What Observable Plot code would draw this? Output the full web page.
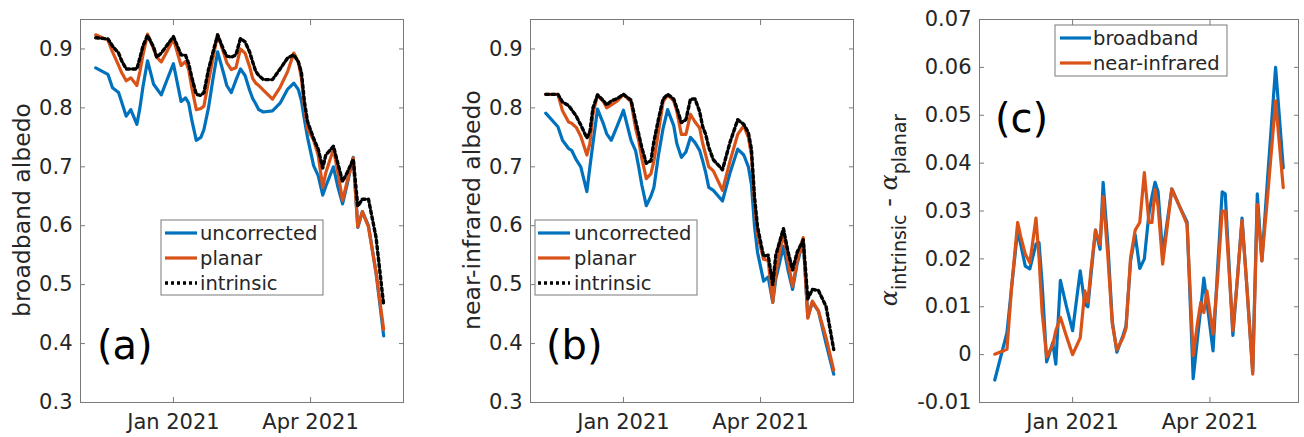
<!DOCTYPE html>
<html>
<head>
<meta charset="utf-8">
<script src="https://cdn.jsdelivr.net/npm/d3@7"></script>
<script src="https://cdn.jsdelivr.net/npm/@observablehq/plot@0.6"></script>
<style>
  html, body { margin: 0; padding: 0; background: #fff; }
  #wrap { position: relative; width: 1304px; height: 437px; overflow: hidden; background: #fff; }
  .panel { position: absolute; top: 0; }
</style>
</head>
<body>
<div id="wrap"></div>
<script>
// ---------------- data ----------------
const dates = ["2020-11-11","2020-11-19","2020-11-22","2020-11-26","2020-11-28","2020-12-01","2020-12-04","2020-12-08","2020-12-10","2020-12-12",
  "2020-12-15","2020-12-19","2020-12-21","2020-12-24","2020-12-28","2021-01-01","2021-01-06","2021-01-09","2021-01-11","2021-01-13",
  "2021-01-16","2021-01-19","2021-01-21","2021-01-24","2021-01-27","2021-01-30","2021-02-03","2021-02-05","2021-02-08","2021-02-11",
  "2021-02-14","2021-02-17","2021-02-20","2021-02-22","2021-02-24","2021-02-26","2021-03-01","2021-03-07","2021-03-12","2021-03-17",
  "2021-03-21","2021-03-24","2021-03-26","2021-03-28","2021-03-30","2021-04-03","2021-04-06","2021-04-09","2021-04-11","2021-04-16",
  "2021-04-19","2021-04-22","2021-04-25","2021-04-29","2021-05-02","2021-05-05","2021-05-09","2021-05-14","2021-05-19"];

// (a) broadband albedo
const broadbandUncorrected = [0.868,0.857,0.834,0.826,0.810,0.786,0.797,0.772,0.800,0.836,
  0.880,0.840,0.833,0.822,0.849,0.875,0.811,0.817,0.808,0.780,
  0.745,0.750,0.763,0.800,0.850,0.895,0.858,0.838,0.826,0.847,
  0.866,0.855,0.830,0.816,0.807,0.797,0.793,0.795,0.808,0.832,
  0.842,0.831,0.812,0.780,0.750,0.702,0.685,0.652,0.667,0.700,
  0.665,0.637,0.670,0.716,0.597,0.624,0.600,0.520,0.413];
const broadbandPlanar = [0.924,0.915,0.895,0.872,0.860,0.846,0.851,0.838,0.862,0.890,
  0.925,0.900,0.886,0.878,0.897,0.917,0.872,0.879,0.865,0.835,
  0.797,0.799,0.803,0.845,0.885,0.924,0.893,0.877,0.865,0.868,
  0.900,0.893,0.870,0.850,0.842,0.838,0.830,0.815,0.835,0.862,
  0.893,0.878,0.850,0.800,0.765,0.745,0.720,0.665,0.690,0.730,
  0.690,0.643,0.675,0.715,0.598,0.624,0.598,0.520,0.424];
const broadbandIntrinsic = [0.919,0.917,0.905,0.893,0.880,0.866,0.866,0.866,0.885,0.905,
  0.923,0.903,0.886,0.893,0.907,0.921,0.890,0.889,0.875,0.852,
  0.823,0.821,0.826,0.865,0.895,0.924,0.898,0.888,0.886,0.890,
  0.918,0.912,0.895,0.878,0.862,0.855,0.848,0.848,0.866,0.885,
  0.890,0.878,0.860,0.810,0.777,0.748,0.730,0.698,0.720,0.735,
  0.705,0.675,0.690,0.713,0.633,0.645,0.645,0.580,0.465];

// (b) near-infrared albedo
const nirUncorrected = [0.791,0.768,0.745,0.731,0.728,0.712,0.700,0.658,0.700,0.740,
  0.798,0.772,0.756,0.745,0.770,0.796,0.745,0.727,0.700,0.670,
  0.634,0.650,0.665,0.720,0.765,0.797,0.770,0.740,0.716,0.725,
  0.750,0.741,0.728,0.710,0.690,0.665,0.660,0.642,0.690,0.730,
  0.720,0.700,0.670,0.600,0.555,0.506,0.513,0.470,0.510,0.565,
  0.525,0.492,0.535,0.575,0.445,0.470,0.455,0.400,0.348];
const nirPlanar = [0.823,0.823,0.795,0.776,0.774,0.767,0.752,0.720,0.740,0.790,
  0.822,0.810,0.800,0.805,0.812,0.823,0.810,0.765,0.745,0.715,
  0.680,0.688,0.710,0.760,0.810,0.822,0.812,0.795,0.755,0.755,
  0.789,0.776,0.766,0.740,0.720,0.700,0.693,0.660,0.710,0.755,
  0.770,0.750,0.720,0.640,0.585,0.543,0.541,0.470,0.520,0.590,
  0.540,0.497,0.540,0.580,0.443,0.472,0.455,0.410,0.355];
const nirIntrinsic = [0.823,0.823,0.810,0.804,0.797,0.786,0.771,0.749,0.760,0.800,
  0.822,0.812,0.805,0.812,0.816,0.823,0.813,0.778,0.756,0.733,
  0.706,0.710,0.743,0.781,0.815,0.823,0.815,0.800,0.775,0.780,
  0.815,0.815,0.794,0.768,0.755,0.733,0.712,0.695,0.742,0.780,
  0.772,0.758,0.730,0.650,0.598,0.548,0.550,0.500,0.550,0.595,
  0.556,0.525,0.555,0.576,0.476,0.492,0.490,0.463,0.390];

// (c) intrinsic minus planar
const diffBroadband = [-0.0053,0.0046,0.0140,0.0260,0.0230,0.0185,0.0179,0.0231,0.0234,0.0150,
  -0.0015,0.0025,-0.0020,0.0155,0.0100,0.0050,0.0175,0.0105,0.0100,0.0165,
  0.0260,0.0220,0.0360,0.0234,0.0070,0.0005,0.0040,0.0060,0.0196,0.0250,
  0.0180,0.0200,0.0294,0.0330,0.0360,0.0340,0.0210,0.0346,0.0310,0.0277,
  -0.0050,0.0040,0.0097,0.0160,0.0110,0.0008,0.0180,0.0340,0.0336,0.0040,
  0.0160,0.0285,0.0150,-0.0035,0.0336,0.0196,0.0380,0.0600,0.0390];
const diffNearInfrared = [0.0001,0.0011,0.0140,0.0276,0.0247,0.0210,0.0192,0.0285,0.0203,0.0090,
  -0.0005,0.0020,0.0050,0.0078,0.0038,0.0000,0.0035,0.0133,0.0110,0.0176,
  0.0260,0.0230,0.0330,0.0210,0.0064,0.0010,0.0035,0.0055,0.0203,0.0260,
  0.0276,0.0380,0.0276,0.0276,0.0345,0.0310,0.0189,0.0346,0.0310,0.0272,
  -0.0002,0.0070,0.0109,0.0088,0.0133,0.0043,0.0160,0.0300,0.0300,0.0050,
  0.0160,0.0280,0.0150,-0.0041,0.0314,0.0196,0.0340,0.0530,0.0349];

// ticks and labels
const xTicks = ["2021-01-01","2021-04-01"];
const albedoTicks = [0.3,0.4,0.5,0.6,0.7,0.8,0.9];
const diffTicks = [-0.01,0,0.01,0.02,0.03,0.04,0.05,0.06,0.07];
const albedoLegend = ["uncorrected","planar","intrinsic"];
const diffLegend = ["broadband","near-infrared"];
const panelLetters = ["(a)","(b)","(c)"];
const yLabels = ["broadband albedo","near-infrared albedo"];

// ---------------- styling ----------------
const BLUE = "#0072BD", ORANGE = "#D95319", BLACK = "#000000";
const AXIS = "#7a7a7a", TEXT = "#262626";
const FONT = "'DejaVu Sans', sans-serif";
const DOTS = "3 3";
const LW = 3.2, DOT_W = 3.4;

const utc = s => new Date(s + "T00:00:00Z");
const rows = arr => dates.map((d, i) => ({date: utc(d), value: arr[i]}));
const fmtAlbedo = d => d.toFixed(1);
const fmtDiff = d => d === 0 ? "0" : (d < 0 ? "-" : "") + Math.abs(d).toFixed(2);

function makePanel({width, ml, mr, xEnd, yDomain, yTicks, yFormat, series}) {
  const xt = xTicks.map(utc);
  return Plot.plot({
    width, height: 437,
    marginLeft: ml, marginRight: mr, marginTop: 19, marginBottom: 35,
    style: {fontFamily: FONT, fontSize: "21px", color: TEXT, background: "transparent", overflow: "visible"},
    x: {type: "utc", domain: [utc("2020-11-01"), utc(xEnd)]},
    y: {domain: yDomain},
    marks: [
      Plot.axisX({ticks: xt, tickSize: -5, tickPadding: 17, tickFormat: d3.utcFormat("%b %Y"), label: null, stroke: AXIS, fill: TEXT}),
      Plot.axisX({anchor: "top", ticks: xt, tickSize: -5, tickFormat: () => "", label: null, stroke: AXIS}),
      Plot.axisY({ticks: yTicks, tickSize: -5, tickPadding: 13, tickFormat: yFormat, label: null, stroke: AXIS, fill: TEXT}),
      Plot.axisY({anchor: "right", ticks: yTicks, tickSize: -5, tickFormat: () => "", label: null, stroke: AXIS}),
      ...series.map(s => Plot.line(rows(s.values), {x: "date", y: "value", stroke: s.color, strokeWidth: s.dash ? DOT_W : LW, strokeDasharray: s.dash, strokeLinejoin: "round"})),
      Plot.frame({stroke: AXIS, strokeWidth: 1})
    ]
  });
}

function legend(svg, {x, y, w, h, lx1, lx2, tx, rowsY, items}) {
  const g = d3.select(svg).append("g").attr("text-anchor", "start");
  g.append("rect").attr("x", x).attr("y", y).attr("width", w).attr("height", h)
    .attr("fill", "#fff").attr("stroke", AXIS).attr("stroke-width", 1);
  items.forEach((it, i) => {
    g.append("line").attr("x1", lx1).attr("x2", lx2).attr("y1", rowsY[i]).attr("y2", rowsY[i])
      .attr("stroke", it.color).attr("stroke-width", it.dash ? DOT_W : LW).attr("stroke-dasharray", it.dash || null);
    g.append("text").attr("x", tx).attr("y", rowsY[i]).attr("dy", "0.36em").attr("text-anchor", "start")
      .attr("font-family", FONT).attr("font-size", 19.5).attr("fill", TEXT).text(it.label);
  });
}

function letter(svg, text, x, y) {
  d3.select(svg).append("text").attr("x", x).attr("y", y).attr("text-anchor", "start")
    .attr("font-family", FONT).attr("font-size", 40).attr("fill", "#000").text(text);
}

function ylabel(svg, text, x, y) {
  d3.select(svg).append("text").attr("transform", `translate(${x},${y}) rotate(-90)`)
    .attr("text-anchor", "middle").attr("font-family", FONT).attr("font-size", 23.5).attr("fill", TEXT).text(text);
}

const wrap = document.getElementById("wrap");
function place(svg, left) {
  svg.classList.add("panel");
  svg.style.left = left + "px";
  wrap.appendChild(svg);
}

// ---------------- panel (a) ----------------
const albedoSeries = (u, p, i) => [
  {values: u, color: BLUE, label: albedoLegend[0]},
  {values: p, color: ORANGE, label: albedoLegend[1]},
  {values: i, color: BLACK, dash: DOTS, label: albedoLegend[2]}
];
const sA = albedoSeries(broadbandUncorrected, broadbandPlanar, broadbandIntrinsic);
const A = makePanel({width: 430, ml: 80, mr: 27, xEnd: "2021-06-01", yDomain: [0.3, 0.95], yTicks: albedoTicks, yFormat: fmtAlbedo, series: sA});
ylabel(A, yLabels[0], 30, 210);
legend(A, {x: 161, y: 220, w: 162, h: 75, lx1: 165, lx2: 197, tx: 200, rowsY: [233, 258, 283], items: sA});
letter(A, panelLetters[0], 97, 359);
place(A, 0);

// ---------------- panel (b) ----------------
const sB = albedoSeries(nirUncorrected, nirPlanar, nirIntrinsic);
const B = makePanel({width: 440, ml: 90, mr: 27, xEnd: "2021-06-01", yDomain: [0.3, 0.95], yTicks: albedoTicks, yFormat: fmtAlbedo, series: sB});
ylabel(B, yLabels[1], 40, 210);
legend(B, {x: 95, y: 220, w: 162, h: 75, lx1: 98, lx2: 130, tx: 134, rowsY: [233, 258, 283], items: sB});
letter(B, panelLetters[1], 106, 359);
place(B, 440);

// ---------------- panel (c) ----------------
const sC = [
  {values: diffBroadband, color: BLUE, label: diffLegend[0]},
  {values: diffNearInfrared, color: ORANGE, label: diffLegend[1]}
];
const C = makePanel({width: 424, ml: 99, mr: 6, xEnd: "2021-05-29", yDomain: [-0.01, 0.07], yTicks: diffTicks, yFormat: fmtDiff, series: sC});
{
  const t = d3.select(C).append("text").attr("transform", "translate(17,210) rotate(-90)")
    .attr("text-anchor", "middle").attr("font-family", FONT).attr("font-size", 24).attr("fill", TEXT);
  t.append("tspan").attr("font-style", "italic").attr("font-family", "'DejaVu Serif', serif").text("α");
  t.append("tspan").attr("dy", 9).attr("font-size", 19).text("intrinsic");
  t.append("tspan").attr("dy", -9).text(" - ");
  t.append("tspan").attr("font-style", "italic").attr("font-family", "'DejaVu Serif', serif").text("α");
  t.append("tspan").attr("dy", 9).attr("font-size", 19).text("planar");
}
legend(C, {x: 175, y: 25, w: 172, h: 51, lx1: 180, lx2: 211, tx: 213, rowsY: [38, 63], items: sC});
letter(C, panelLetters[2], 115, 132);
place(C, 880);
</script>
</body>
</html>
